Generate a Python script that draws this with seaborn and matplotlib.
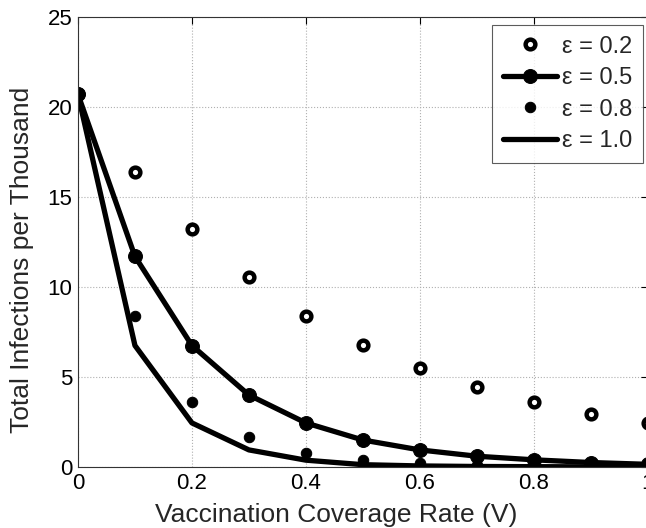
import matplotlib
matplotlib.use("Agg")
import matplotlib.pyplot as plt
import pandas as pd
import seaborn as sns

coverage = [0.0, 0.1, 0.2, 0.3, 0.4, 0.5, 0.6, 0.7, 0.8, 0.9, 1.0]
eps_02 = [20.7, 16.4, 13.2, 10.55, 8.4, 6.8, 5.5, 4.45, 3.6, 2.95, 2.45]
eps_05 = [20.7, 11.7, 6.75, 4.0, 2.45, 1.5, 0.95, 0.6, 0.4, 0.25, 0.15]
eps_08 = [20.7, 8.4, 3.6, 1.65, 0.8, 0.4, 0.2, 0.1, 0.06, 0.04, 0.02]
eps_10 = [20.7, 6.75, 2.45, 0.95, 0.38, 0.13, 0.06, 0.03, 0.02, 0.01, 0.01]

sns.set_theme(style="white")
plt.rcParams["font.family"] = ["Liberation Sans", "DejaVu Sans"]

fig = plt.figure(figsize=(6.46, 5.28), dpi=100)
# right edge runs just past the figure, as in the original (the "1" is cut)
ax = fig.add_axes([0.1207, 0.1155, 0.882, 0.8523])

df = pd.DataFrame({"V": coverage, "e02": eps_02, "e05": eps_05, "e08": eps_08, "e10": eps_10})

sns.lineplot(data=df, x="V", y="e02", ax=ax, sort=False, linestyle="none", marker="o",
             markersize=7, markerfacecolor="white", markeredgecolor="black",
             markeredgewidth=3.2, color="black", label="ε = 0.2")
sns.lineplot(data=df, x="V", y="e05", ax=ax, sort=False, color="black", linewidth=3.8,
             marker="o", markersize=10, markeredgecolor="black", label="ε = 0.5")
sns.lineplot(data=df, x="V", y="e08", ax=ax, sort=False, linestyle="none", marker="o",
             markersize=7.5, markeredgecolor="black", color="black", label="ε = 0.8")
sns.lineplot(data=df, x="V", y="e10", ax=ax, sort=False, color="black", linewidth=3.8,
             label="ε = 1.0")

ax.set_xlim(0, 1)
ax.set_ylim(0, 25)
ax.set_xticks([0, 0.2, 0.4, 0.6, 0.8, 1.0])
ax.set_xticklabels(["0", "0.2", "0.4", "0.6", "0.8", "1"])
ax.set_yticks([0, 5, 10, 15, 20, 25])
ax.set_xlabel("Vaccination Coverage Rate (V)", fontsize=19)
ax.set_ylabel("Total Infections per Thousand", fontsize=19)
ax.xaxis.set_label_coords(0.454, -0.08)
ax.yaxis.set_label_coords(-0.077, 0.46)
ax.tick_params(direction="in", length=5, width=0.8, labelsize=16, top=True, right=True,
               colors="black", pad=4)
ax.grid(True, linestyle=":", color="#b0b0b0", linewidth=0.8)
for spine in ax.spines.values():
    spine.set_color("#333333")
    spine.set_linewidth(0.8)

leg = ax.legend(loc="upper right", bbox_to_anchor=(0.991, 0.982), fontsize=17,
                frameon=True, fancybox=False, handlelength=2.3, handletextpad=0.2,
                borderpad=0.45, labelspacing=0.4, borderaxespad=0)
leg.get_frame().set_edgecolor("#333333")
leg.get_frame().set_linewidth(0.8)

fig.savefig("out.png", dpi=100)
